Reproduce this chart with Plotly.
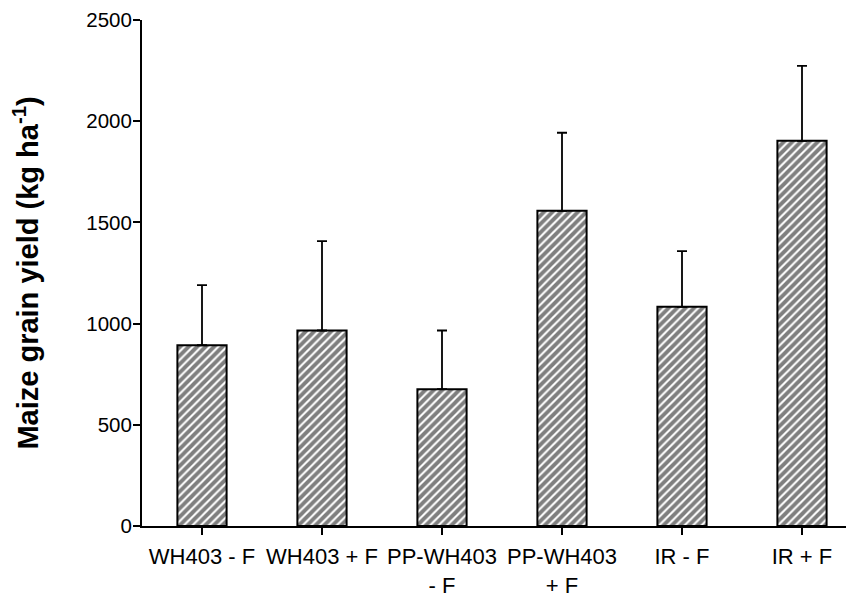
import plotly.graph_objects as go

categories = ["WH403 - F", "WH403 + F", "PP-WH403<br>- F", "PP-WH403<br>+ F", "IR - F", "IR + F"]
yield_means = [893, 966, 676, 1557, 1083, 1903]
yield_err = [297, 441, 290, 386, 275, 370]
y_ticks = [0, 500, 1000, 1500, 2000, 2500]

fig = go.Figure()
fig.add_trace(go.Bar(
    x=list(range(len(categories))),
    y=yield_means,
    width=0.41,
    marker=dict(
        color="white",
        line=dict(color="black", width=2),
        pattern=dict(shape="/", fgcolor="black", bgcolor="white", size=6, solidity=0.65),
    ),
    error_y=dict(type="data", array=yield_err, arrayminus=[0] * len(yield_err),
                 symmetric=False, color="black", thickness=1.8, width=5),
    showlegend=False,
))

fig.update_layout(
    width=846, height=590,
    margin=dict(l=134, r=0, t=8, b=72),
    paper_bgcolor="white", plot_bgcolor="white",
    font=dict(family="Liberation Sans, Arial, sans-serif", color="black"),
)
fig.update_xaxes(
    tickmode="array",
    tickvals=list(range(len(categories))),
    ticktext=categories,
    range=[-0.5, -0.5 + 712 / 120],
    showline=True, linecolor="black", linewidth=2,
    ticks="outside", ticklen=7, tickwidth=2, tickcolor="black",
    showgrid=False, zeroline=False,
    tickfont=dict(size=22),
    ticklabelstandoff=3,
)
fig.update_yaxes(
    range=[0, 2500],
    tickvals=y_ticks,
    showline=True, linecolor="black", linewidth=2,
    ticks="outside", ticklen=7, tickwidth=2, tickcolor="black",
    showgrid=False, zeroline=False,
    tickfont=dict(size=20.5),
    ticklabeloverflow="allow",
    ticklabelstandoff=-3,
    title=dict(text="<b>Maize grain yield (kg ha<sup>-1</sup>)</b>", font=dict(size=29), standoff=41),
)

fig.write_html("out.html")
